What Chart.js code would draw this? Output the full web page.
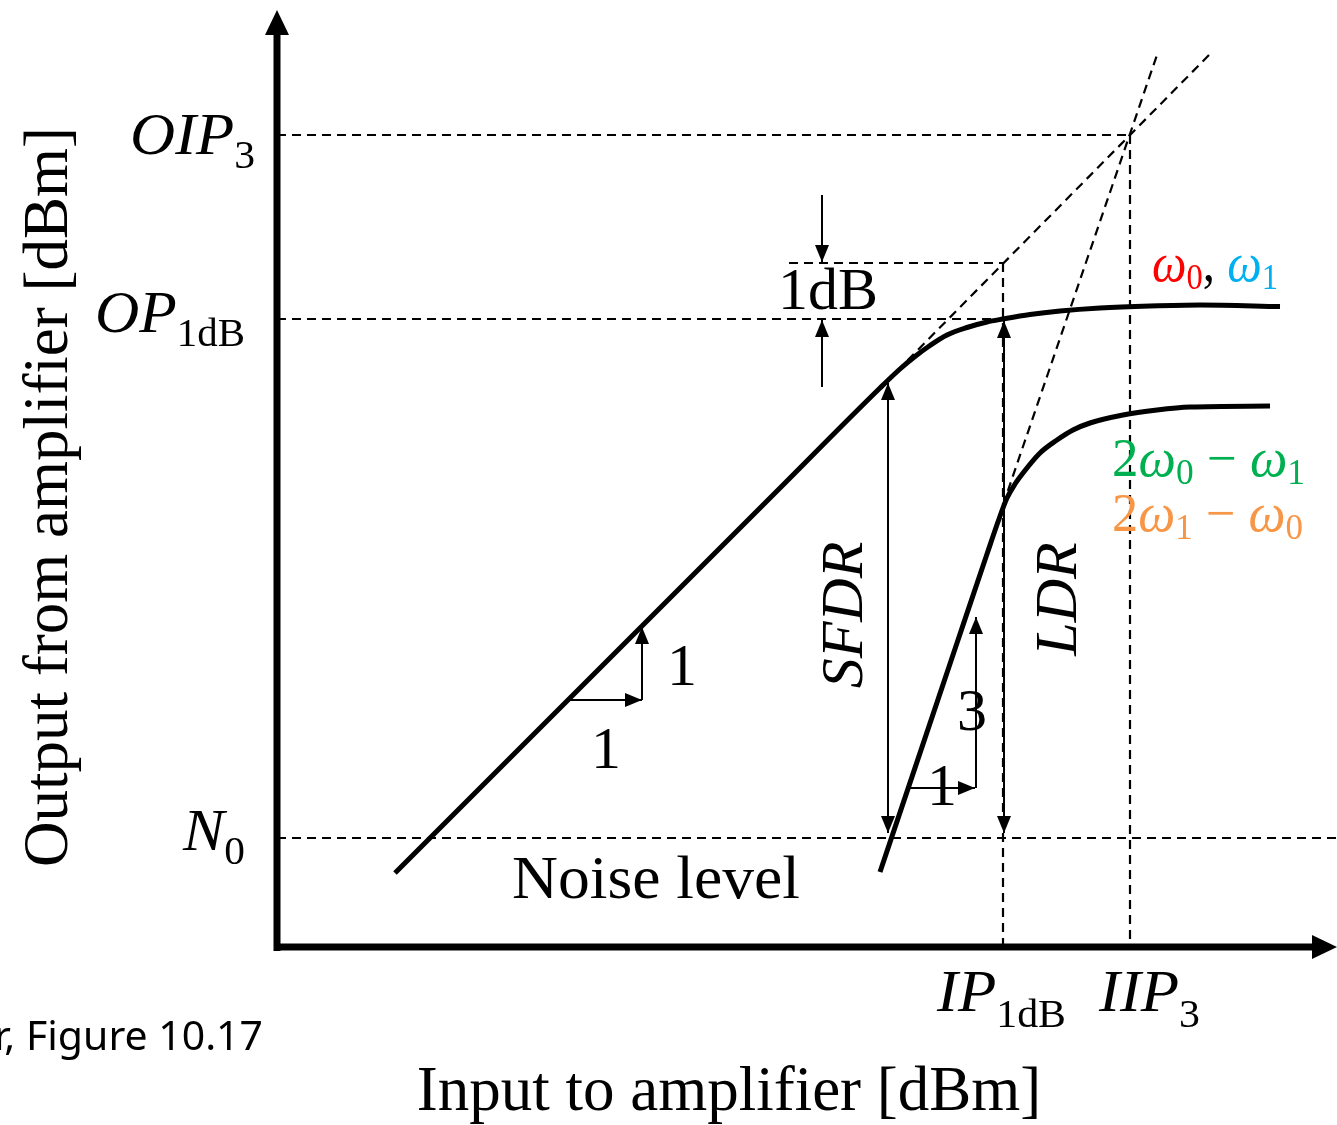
<!DOCTYPE html>
<html><head><meta charset="utf-8">
<script src="https://cdn.jsdelivr.net/npm/chart.js@4.4.1/dist/chart.umd.min.js"></script>
<style>html,body{margin:0;padding:0;background:#fff;overflow:hidden}canvas{display:block}</style>
</head><body>
<canvas id="c" width="1337" height="1125"></canvas>
<script>
// ---- axis ranges (relative dB units) ----
const xRange = [0, 106];
const yRange = [0, 94.7];
const xAxisTip = 106;
const yAxisTip = 93.7;

// ---- fundamental output (w0, w1) ----
const fundIn  = [11.8, 50.0, 60.3, 62.3, 63.8, 65.3, 67.0, 69.0, 71.0, 72.6, 75.3, 78.3, 82.3, 87.3, 92.3, 100.3];
const fundOut = [7.4, 45.6, 55.9, 57.8, 59.05, 60.15, 61.2, 61.95, 62.5, 62.8, 63.25, 63.6, 63.9, 64.1, 64.2, 64.05];

// ---- third-order intermod output (2w0-w1, 2w1-w0) ----
const im3In  = [60.3, 68.0, 71.0, 72.2, 73.0, 73.8, 74.6, 76.3, 78.0, 79.6, 81.3, 84.6, 88.0, 91.3, 99.3];
const im3Out = [7.5, 30.4, 39.3, 42.8, 44.9, 46.3, 47.4, 49.4, 50.7, 51.7, 52.4, 53.2, 53.7, 54.0, 54.1];

// ---- extrapolated (dashed) lines ----
const ext1In  = [62.0, 93.5];
const ext1Out = [57.6, 89.5];
const ext3In  = [72.6, 88.1];
const ext3Out = [44.2, 89.5];

// ---- reference levels ----
const OIP3 = 81.2, OP1dB = 62.8, P1dBIdeal = 68.4, N0 = 10.9, IP1dB = 72.6, IIP3 = 85.3;
const oneDbLineStart = 51.2;
const yTickValues = [OIP3, OP1dB, N0];
const yTickLabels = [["OIP", "3"], ["OP", "1dB"], ["N", "0"]];
const xTickValues = [IP1dB, IIP3];
const xTickLabels = [["IP", "1dB"], ["IIP", "3"]];

// ---- annotation arrows ----
const arrowFromX = [54.5, 54.5, 61.1, 72.7, 29.3, 36.5, 63.3, 69.9];
const arrowFromY = [75.2, 56.0, 11.4, 11.4, 24.7, 24.7, 15.9, 15.9];
const arrowToX   = [54.5, 54.5, 61.1, 72.7, 36.5, 36.5, 69.8, 69.9];
const arrowToY   = [68.5, 62.7, 56.4, 62.6, 24.7, 32.0, 15.9, 33.0];
const arrowBoth  = [false, false, true, true, false, false, false, false];

const zip = (a, b) => a.map((v, i) => ({x: v, y: b[i]}));
const SERIF = '"Liberation Serif", "Times New Roman", serif';

const datasets = [];
const solid = (d) => ({data: d, showLine: true, borderColor: '#000', borderWidth: 5, pointRadius: 0,
  cubicInterpolationMode: 'monotone', borderCapStyle: 'butt', borderJoinStyle: 'round'});
const dashed = (d) => ({data: d, showLine: true, borderColor: '#000', borderWidth: 2.2, pointRadius: 0,
  borderDash: [9, 6], borderCapStyle: 'butt'});
const thin = (d) => ({data: d, showLine: true, borderColor: '#000', borderWidth: 2, pointRadius: 0});

datasets.push(dashed([{x: 0, y: OIP3}, {x: IIP3, y: OIP3}]));
datasets.push(dashed([{x: IIP3, y: OIP3}, {x: IIP3, y: 0}]));
datasets.push(dashed([{x: 0, y: OP1dB}, {x: IP1dB, y: OP1dB}]));
datasets.push(dashed([{x: oneDbLineStart, y: P1dBIdeal}, {x: IP1dB, y: P1dBIdeal}]));
datasets.push(dashed([{x: IP1dB, y: P1dBIdeal}, {x: IP1dB, y: 0}]));
datasets.push(dashed([{x: 0, y: N0}, {x: xRange[1], y: N0}]));
datasets.push(dashed(zip(ext1In, ext1Out)));
datasets.push(dashed(zip(ext3In, ext3Out)));
arrowFromX.forEach((v, i) => datasets.push(thin([{x: v, y: arrowFromY[i]}, {x: arrowToX[i], y: arrowToY[i]}])));
datasets.push(solid(zip(fundIn, fundOut)));
datasets.push(solid(zip(im3In, im3Out)));

function head(ctx, tx, ty, fx, fy, len, half) {
  const a = Math.atan2(ty - fy, tx - fx);
  ctx.save();
  ctx.translate(tx, ty); ctx.rotate(a);
  ctx.beginPath(); ctx.moveTo(0, 0); ctx.lineTo(-len, -half); ctx.lineTo(-len, half); ctx.closePath();
  ctx.fill();
  ctx.restore();
}

function rich(ctx, parts, x, y, targetW) {
  let w = 0;
  parts.forEach(p => { ctx.font = p.f; w += ctx.measureText(p.t).width; });
  const s = targetW ? targetW / w : 1;
  ctx.save();
  ctx.translate(x, y); ctx.scale(s, 1);
  let cx = 0;
  ctx.textAlign = 'left'; ctx.textBaseline = 'alphabetic';
  parts.forEach(p => {
    ctx.font = p.f; ctx.fillStyle = p.c || '#000';
    ctx.fillText(p.t, cx, p.dy || 0);
    cx += ctx.measureText(p.t).width;
  });
  ctx.restore();
}

const drawPlugin = {
  id: 'drawing',
  afterDraw(chart) {
    const ctx = chart.ctx;
    const xs = chart.scales.x, ys = chart.scales.y;
    const X = v => xs.getPixelForValue(v), Y = v => ys.getPixelForValue(v);
    ctx.save();
    ctx.fillStyle = '#000'; ctx.strokeStyle = '#000';
    arrowFromX.forEach((v, i) => {
      const fx = X(v), fy = Y(arrowFromY[i]), tx = X(arrowToX[i]), ty = Y(arrowToY[i]);
      head(ctx, tx, ty, fx, fy, 17, 7);
      if (arrowBoth[i]) head(ctx, fx, fy, tx, ty, 17, 7);
    });
    ctx.lineWidth = 7; ctx.lineCap = 'butt';
    ctx.beginPath();
    ctx.moveTo(X(0), Y(0) + 4); ctx.lineTo(X(0), Y(yAxisTip) + 20);
    ctx.moveTo(X(0) - 3.5, Y(0)); ctx.lineTo(X(xAxisTip) - 20, Y(0));
    ctx.stroke();
    head(ctx, X(0), Y(yAxisTip), X(0), Y(0), 25, 12);
    head(ctx, X(xAxisTip), Y(0), X(0), Y(0), 25, 12);

    const it60 = 'italic 60px ' + SERIF, up60 = '60px ' + SERIF, sub40 = '40px ' + SERIF;
    const yLabelX = [130, 95, 183];
    const yDy = [19, 13, 12];
    const yLabelW = [125, 150, 62];
    yTickValues.forEach((v, i) => {
      const [m, s] = yTickLabels[i];
      rich(ctx, [{t: m, f: it60}, {t: s, f: sub40, dy: 14}], yLabelX[i], Y(v) + yDy[i], yLabelW[i]);
    });
    const xLabelStart = [937, 1099];
    const xLabelW = [129, 101];
    xTickValues.forEach((v, i) => {
      const [m, s] = xTickLabels[i];
      rich(ctx, [{t: m, f: it60}, {t: s, f: sub40, dy: 16}], xLabelStart[i], Y(0) + 64, xLabelW[i]);
    });

    rich(ctx, [{t: '1dB', f: up60}], 778, Y(P1dBIdeal) + 46, 100);
    ctx.textAlign = 'center'; ctx.textBaseline = 'alphabetic'; ctx.font = up60;
    ctx.fillText('1', X(36.5) + 40, Y(24.7) - 15);
    ctx.fillText('1', X(32.9), Y(24.7) + 68);
    ctx.fillText('3', X(69.9) - 4, Y(24.7) + 30);
    ctx.fillText('1', X(66.5), Y(15.9) + 17);
    rich(ctx, [{t: 'Noise level', f: '62px ' + SERIF}], 512, Y(N0) + 60, 288);

    ctx.font = it60; ctx.textAlign = 'center'; ctx.textBaseline = 'alphabetic';
    ctx.save(); ctx.translate(X(61.1) - 26, 615); ctx.rotate(-Math.PI / 2); ctx.fillText('SFDR', 0, 0); ctx.restore();
    ctx.save(); ctx.translate(X(72.7) + 72, 599); ctx.rotate(-Math.PI / 2); ctx.fillText('LDR', 0, 0); ctx.restore();

    ctx.font = '63px ' + SERIF;
    ctx.save(); ctx.translate(67, 497); ctx.rotate(-Math.PI / 2); ctx.fillText('Output from amplifier [dBm]', 0, 0); ctx.restore();
    ctx.fillText('Input to amplifier [dBm]', 729, 1110);

    ctx.textAlign = 'left';
    rich(ctx, [{t: 'r, Figure 10.17', f: '40px "Noto Sans", "Open Sans", sans-serif'}], -6, 1050, 269);

    const om = 'italic 54px ' + SERIF, up = '54px ' + SERIF, sb = '36px ' + SERIF;
    const RED = '#FF0000', CYAN = '#00B0F0', GREEN = '#00B050', ORANGE = '#F79646';
    rich(ctx, [{t: 'ω', f: om, c: RED}, {t: '0', f: sb, c: RED, dy: 8}, {t: ', ', f: up, c: '#000'},
               {t: 'ω', f: om, c: CYAN}, {t: '1', f: sb, c: CYAN, dy: 8}], 1152, 281, 126);
    rich(ctx, [{t: '2', f: up, c: GREEN}, {t: 'ω', f: om, c: GREEN}, {t: '0', f: sb, c: GREEN, dy: 8},
               {t: ' − ', f: up, c: GREEN}, {t: 'ω', f: om, c: GREEN}, {t: '1', f: sb, c: GREEN, dy: 8}], 1112, 476, 193);
    rich(ctx, [{t: '2', f: up, c: ORANGE}, {t: 'ω', f: om, c: ORANGE}, {t: '1', f: sb, c: ORANGE, dy: 8},
               {t: ' − ', f: up, c: ORANGE}, {t: 'ω', f: om, c: ORANGE}, {t: '0', f: sb, c: ORANGE, dy: 8}], 1112, 531, 191);
    ctx.restore();
  }
};

new Chart(document.getElementById('c'), {
  type: 'scatter',
  data: {datasets},
  options: {
    responsive: false, animation: false, devicePixelRatio: 1,
    layout: {padding: {left: 277, right: 0, top: 0, bottom: 178}},
    plugins: {legend: {display: false}, tooltip: {enabled: false}},
    events: [],
    scales: {
      x: {type: 'linear', min: xRange[0], max: xRange[1], display: false},
      y: {type: 'linear', min: yRange[0], max: yRange[1], display: false}
    }
  },
  plugins: [drawPlugin]
});
</script>
</body></html>
